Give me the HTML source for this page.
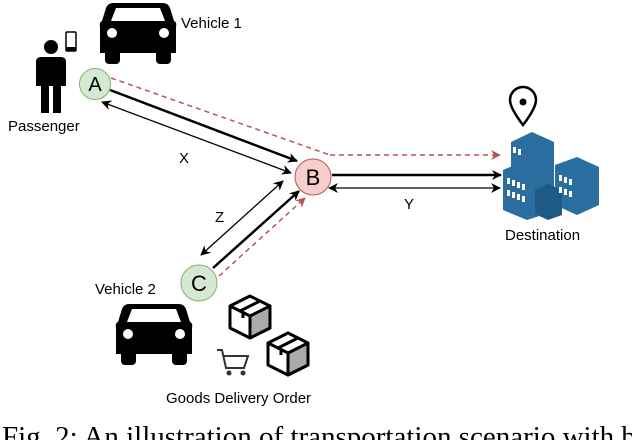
<!DOCTYPE html>
<html><head><meta charset="utf-8"><style>
body{margin:0;background:#fff}
svg{display:block}
text{font-family:"Liberation Sans",sans-serif;fill:#000}
</style></head><body>
<svg width="632" height="440" viewBox="0 0 632 440" xmlns="http://www.w3.org/2000/svg">
<defs>
<marker id="ak" markerWidth="10" markerHeight="10" refX="9" refY="5" orient="auto-start-reverse" markerUnits="userSpaceOnUse"><path d="M0,0 L10,5 L0,10 L3,5 Z" fill="#000"/></marker>
<marker id="ar" markerWidth="10" markerHeight="10" refX="9" refY="5" orient="auto" markerUnits="userSpaceOnUse"><path d="M0,0 L10,5 L0,10 L3,5 Z" fill="#b85450"/></marker>
<g id="car">
<path d="M13,0 H63 Q68,0 70,5 L74,18 Q77,19 76,24 V50 H0 V24 Q-1,19 2,18 L6,5 Q8,0 13,0 Z M16,5 L11,18 H65 L60,5 Z" fill="#000" fill-rule="evenodd"/>
<rect x="5" y="45" width="15" height="16" rx="4" fill="#000"/>
<rect x="56" y="45" width="15" height="16" rx="4" fill="#000"/>
<circle cx="12" cy="30" r="5" fill="#fff"/><circle cx="64" cy="30" r="5" fill="#fff"/>
</g>
<g id="box">
<path d="M0,10 L20,0 L40,10 L40,32 L20,42 L0,32 Z" fill="#fff" stroke="#000" stroke-width="3" stroke-linejoin="round"/>
<path d="M20,20 L40,10 L40,32 L20,42 Z" fill="#aaa" stroke="#000" stroke-width="3" stroke-linejoin="round"/>
<path d="M0,10 L20,20 M10,15 L30,5 M13,16 V22" stroke="#000" stroke-width="3" fill="none"/>
</g>
</defs>

<use href="#car" x="100" y="3"/>
<text x="181" y="28" font-size="15">Vehicle 1</text>

<circle cx="51" cy="47" r="7"/>
<path d="M41,57 H61 Q66,57 66,62 V86 H61 V113 H53 V86 H49 V113 H41 V86 H36 V62 Q36,57 41,57 Z"/>
<rect x="66" y="32" width="10" height="19" rx="1" fill="#fff" stroke="#000" stroke-width="1.5"/>
<rect x="66" y="47" width="10" height="4" fill="#000"/>
<text x="8" y="131" font-size="15">Passenger</text>

<line x1="111" y1="78" x2="330" y2="155" stroke="#b85450" stroke-width="1.5" stroke-dasharray="5,4"/>
<line x1="330" y1="155" x2="500" y2="155" stroke="#b85450" stroke-width="1.5" stroke-dasharray="5,4" marker-end="url(#ar)"/>
<line x1="110" y1="90" x2="297" y2="161" stroke="#000" stroke-width="2.5" marker-end="url(#ak)"/>
<line x1="102" y1="102" x2="291" y2="173" stroke="#000" stroke-width="1.3" marker-start="url(#ak)" marker-end="url(#ak)"/>
<text x="179" y="163" font-size="15">X</text>

<line x1="332" y1="175" x2="501" y2="175" stroke="#000" stroke-width="2.5" marker-end="url(#ak)"/>
<line x1="329" y1="188" x2="500" y2="188" stroke="#000" stroke-width="1.3" marker-start="url(#ak)" marker-end="url(#ak)"/>
<text x="404" y="209" font-size="15">Y</text>

<line x1="201" y1="255" x2="283" y2="181" stroke="#000" stroke-width="1.3" marker-start="url(#ak)" marker-end="url(#ak)"/>
<line x1="213" y1="268" x2="299" y2="191" stroke="#000" stroke-width="2.5" marker-end="url(#ak)"/>
<line x1="219" y1="276" x2="305" y2="198" stroke="#b85450" stroke-width="1.5" stroke-dasharray="5,4" marker-end="url(#ar)"/>
<text x="215" y="222" font-size="15">Z</text>

<circle cx="95" cy="84" r="15.5" fill="#d5e8d4" stroke="#82b366"/>
<text x="95" y="91" font-size="20" text-anchor="middle">A</text>
<circle cx="313" cy="177" r="18" fill="#f8cecc" stroke="#b85450"/>
<text x="313" y="185" font-size="22" text-anchor="middle">B</text>
<circle cx="199" cy="283" r="18" fill="#d5e8d4" stroke="#82b366"/>
<text x="199" y="291" font-size="22" text-anchor="middle">C</text>

<path d="M523,125 Q510,108 510,100 A13,13 0 0 1 536,100 Q536,108 523,125 Z" fill="#fff" stroke="#000" stroke-width="2.5"/>
<circle cx="523" cy="102" r="3.5"/>
<g fill="#2a6fa0">
<path d="M511,142 L532,132 L554,142 L554,195 L511,195 Z"/>
<path d="M555,165 L577,157 L599,167 L599,205 L577,215 L555,205 Z"/>
<path d="M503,170 L527,160 L552,170 L552,212 L527,220 L503,210 Z"/>
<path d="M535,190 L548,184 L562,190 L562,215 L548,220 L535,214 Z" fill="#1f5a85"/>
</g>
<g fill="#fff">
<rect x="513" y="147" width="3" height="6"/><rect x="518" y="149" width="3" height="6"/>
<rect x="507" y="178" width="3" height="6"/><rect x="512" y="180" width="3" height="6"/><rect x="517" y="182" width="3" height="6"/><rect x="522" y="184" width="3" height="6"/>
<rect x="507" y="190" width="3" height="6"/><rect x="512" y="192" width="3" height="6"/><rect x="517" y="194" width="3" height="6"/><rect x="522" y="196" width="3" height="6"/>
<rect x="559" y="175" width="3" height="6"/><rect x="564" y="177" width="3" height="6"/><rect x="569" y="179" width="3" height="6"/>
<rect x="559" y="187" width="3" height="6"/><rect x="564" y="189" width="3" height="6"/><rect x="569" y="191" width="3" height="6"/>
</g>
<text x="505" y="240" font-size="15">Destination</text>

<text x="95" y="294" font-size="15">Vehicle 2</text>
<use href="#car" x="116" y="304"/>
<use href="#box" x="230" y="296"/>
<use href="#box" x="268" y="333"/>
<path d="M217,350 H222 L226,368 H244 L248,356 H224" fill="none" stroke="#333" stroke-width="2"/>
<circle cx="229" cy="373" r="2.5" fill="#333"/><circle cx="243" cy="373" r="2.5" fill="#333"/>
<text x="166" y="403" font-size="15">Goods Delivery Order</text>

<text x="2" y="446" font-size="29" style="font-family:'Liberation Serif',serif">Fig. 2: An illustration of transportation scenario with b</text>
</svg>
</body></html>
